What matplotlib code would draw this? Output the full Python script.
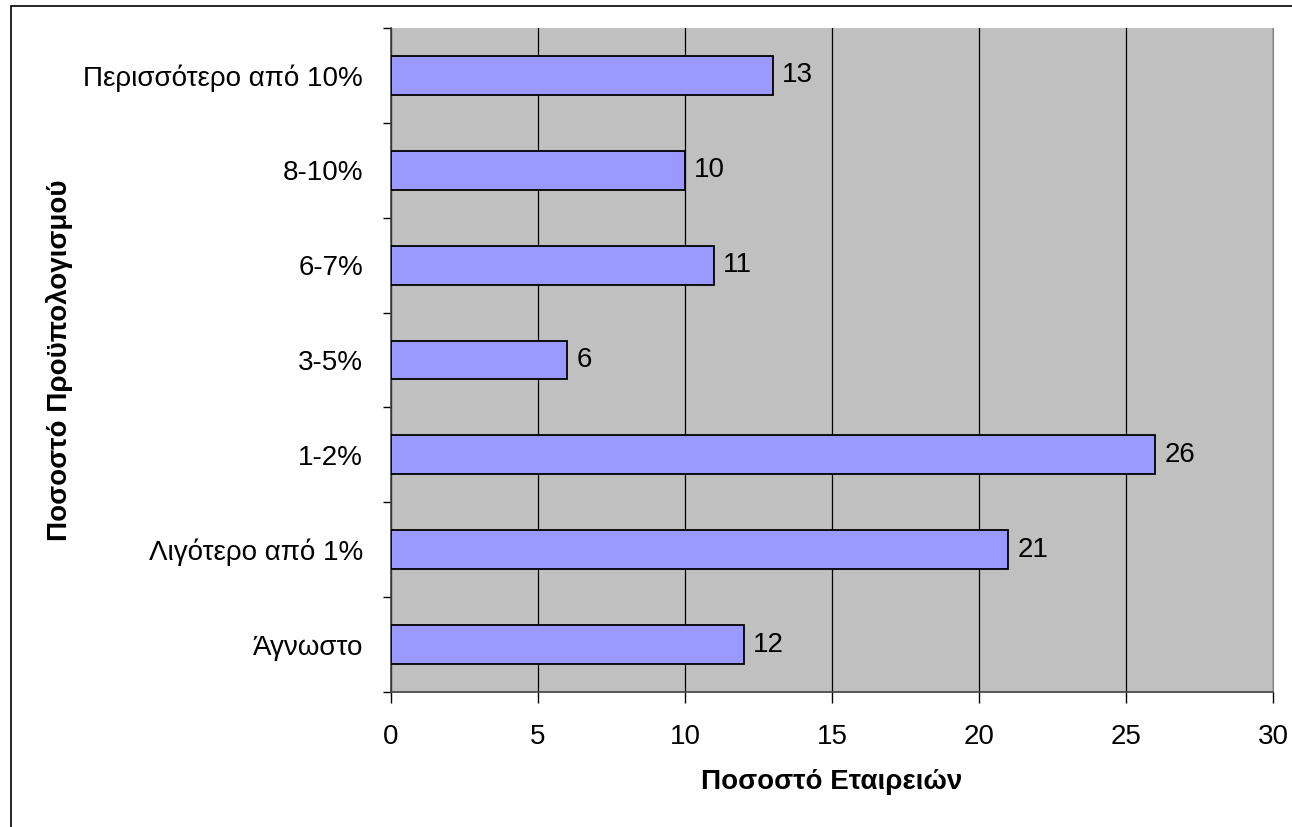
import matplotlib
matplotlib.use("Agg")
import matplotlib.pyplot as plt
from matplotlib.patches import Rectangle

categories = ["Άγνωστο", "Λιγότερο από 1%", "1-2%", "3-5%", "6-7%", "8-10%", "Περισσότερο από 10%"]
values = [12, 21, 26, 6, 11, 10, 13]
xticks = [0, 5, 10, 15, 20, 25, 30]

plt.rcParams['font.family'] = ['Liberation Sans', 'DejaVu Sans']

W, H = 1292, 827
FS = 20
fig = plt.figure(figsize=(W/100, H/100), dpi=100)
# figure border (only left/top visible)
fig.patches.append(Rectangle((11/W, -0.1), 1.2, 1.1 - 6/H, transform=fig.transFigure,
                             fill=False, edgecolor='black', linewidth=1.2))
ax = fig.add_axes([391/W, 1-692/H, (1273-391)/W, (692-28)/H])
ax.set_facecolor('#C0C0C0')
ypos = list(range(len(categories)))
ax.barh(ypos, values, height=0.41, color='#9999FF', edgecolor='black', linewidth=1.3, zorder=3)
for y, v in zip(ypos, values):
    ax.text(v + 0.3, y, str(v), va='center', ha='left', fontsize=FS, zorder=4)
ax.set_xlim(0, 30)
ax.set_ylim(-0.5, len(categories) - 0.5)
ax.set_xticks(xticks)
ax.set_xticklabels([str(t) for t in xticks], fontsize=FS)
ax.set_yticks(ypos)
ax.set_yticklabels(categories, fontsize=FS)
ax.set_yticks([i - 0.5 for i in range(len(categories) + 1)], minor=True)
ax.tick_params(axis='y', which='major', length=0, pad=20)
ax.tick_params(axis='y', which='minor', length=6, width=1, color='black', direction='out')
ax.tick_params(axis='x', which='major', length=8, width=1, direction='out', pad=15)
ax.xaxis.grid(True, color='black', linewidth=0.9, zorder=1)
ax.set_axisbelow(True)
for s in ['left', 'bottom']:
    ax.spines[s].set_color('#404040')
    ax.spines[s].set_linewidth(1.2)
ax.spines['right'].set_color('#808080')
ax.spines['top'].set_visible(False)
ax.set_xlabel('Ποσοστό Εταιρειών', fontsize=FS, fontweight='bold')
ax.set_ylabel('Ποσοστό Προϋπολογισμού', fontsize=FS, fontweight='bold')
ax.xaxis.label.set_va('center')
ax.yaxis.label.set_va('center')
ax.xaxis.set_label_coords(0.5, (692 - 782) / (692 - 28))
ax.yaxis.set_label_coords((60 - 391) / (1273 - 391), 0.5)
fig.savefig('out.png', dpi=100, facecolor='white')
